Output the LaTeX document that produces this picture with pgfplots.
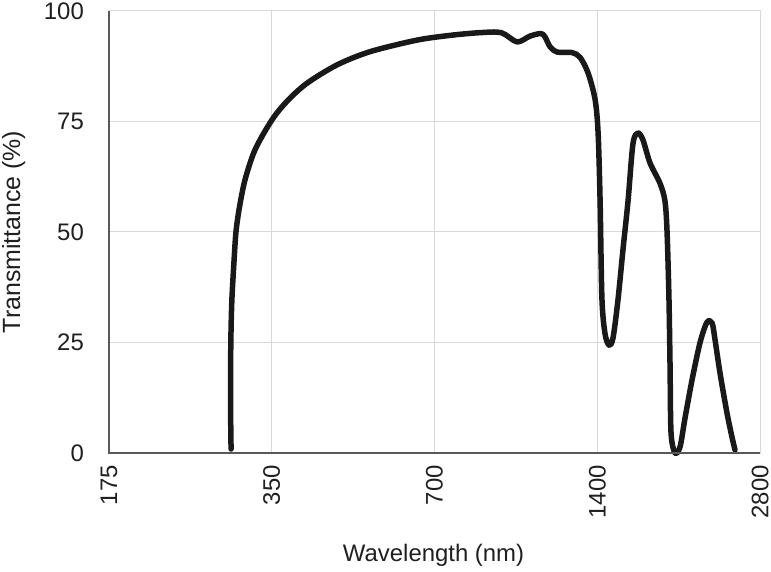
\documentclass[border=0pt]{standalone}
\usepackage{fontspec}
\setmainfont{Liberation Sans}
\usepackage{pgfplots}
\pgfplotsset{compat=1.18}
\pgfplotstableread{
x y
294.3 0.9
293.6 12
294.0 25.1
295.3 34.6
298.1 43.7
300.6 50.2
305.1 55.7
312.3 61.8
325.9 68.6
350 75.3
373 79.5
406 83.6
462 87.8
532 90.8
649 93.4
750 94.5
850 95.1
930 95.1
995 93
1050 94.3
1100 94.9
1120 94.2
1145 91.9
1180 90.7
1257 90.6
1301 89.5
1346 86
1387 80
1405 72.4
1417 57
1428 35
1447 27
1472 24.4
1497 26
1529 34.6
1562 46
1596 57
1630 70
1665 72.4
1701 70.8
1753 65.6
1829 61
1868 57
1885 50
1900 35
1909 19.5
1917 4.5
1950 0
1992 1.4
2035 8
2096 16.5
2169 25
2234 29.6
2283 29.4
2312 25.6
2362 18
2433 9
2485 3.6
2517 0.7
}\spectrum
\begin{document}
\begin{tikzpicture}
\useasboundingbox (-109bp,-119bp) rectangle (662bp,453bp);
\begin{axis}[
  at={(0,0)}, anchor=south west,
  width=651bp, height=442bp, scale only axis,
  xmode=log, log basis x=2,
  xmin=175, xmax=2800, ymin=0, ymax=100,
  xtick={175,350,700,1400,2800},
  xticklabels={175,350,700,1400,2800},
  ytick={0,25,50,75,100},
  grid=major,
  grid style={draw=black!15, line width=1bp},
  axis line style={draw=black!15, line width=1bp},
  major tick length=0pt,
  /pgf/number format/assume math mode=true,
  tick label style={font=\fontsize{24}{28}\selectfont, text=black!88},
  x tick label style={rotate=90, anchor=east, inner xsep=12bp, inner ysep=0pt},
  y tick label style={anchor=east, inner xsep=25bp, inner ysep=0pt},
  xlabel={Wavelength (nm)},
  ylabel={Transmittance (\%)},
  every axis x label/.style={at={(axis description cs:0.4985,-0.2466)}, anchor=base, font=\fontsize{24}{28}\selectfont, text=black!88},
  every axis y label/.style={at={(axis description cs:-0.1367,0.5)}, anchor=base, rotate=90, font=\fontsize{25}{29}\selectfont, text=black!88},
  clip=false,
]
\addplot[line width=5.5bp, color=black!90, smooth, tension=0.5, line cap=round, line join=round] table[x=x, y=y] {\spectrum};
\draw[black!65, line width=1.2bp] (rel axis cs:0,1) -- (rel axis cs:0,0) -- (rel axis cs:1,0);
\end{axis}
\end{tikzpicture}
\end{document}
